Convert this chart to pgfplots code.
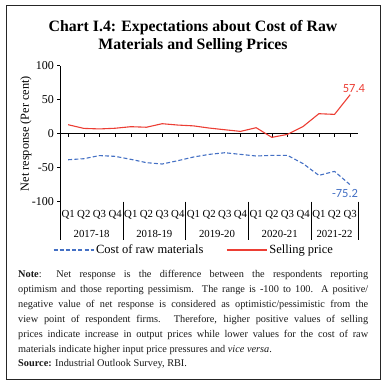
\documentclass[border=0pt]{standalone}
\usepackage{pgfplots}
\pgfplotsset{compat=1.18}
\usepackage{fontspec}
\setmainfont{Liberation Serif}
\newfontfamily\calib{Carlito}
\definecolor{sred}{RGB}{236,62,52}
\definecolor{cblue}{RGB}{68,112,196}
\begin{document}
\begin{tikzpicture}
\path (0pt,0pt) rectangle (387pt,387pt);
\draw[line width=0.9pt, black!85] (6.5pt,381.5pt) rectangle (380.5pt,8pt);
\node[font=\bfseries\fontsize{15.8}{17.6}\selectfont, anchor=base] at (193pt,355pt) {Chart I.4: Expectations about Cost of Raw};
\node[font=\bfseries\fontsize{15.8}{17.6}\selectfont, anchor=base] at (193pt,337.5pt) {Materials and Selling Prices};
\begin{axis}[
  at={(60.3pt,185.3pt)}, anchor=south west,
  x=15.67pt, y=0.68pt,
  xmin=-0.5, xmax=18.5, ymin=-100, ymax=100,
  axis x line=middle, axis y line=left,
  axis line style={-, black, line width=0.6pt},
  clip=false,
  xtick={0,...,18}, xticklabels={},
  ytick={-100,-50,0,50,100},
  tick align=outside, major tick length=3pt,
  tick style={black, line width=0.6pt},
  /pgf/number format/assume math mode=true,
  yticklabel style={font=\fontsize{12}{13}\selectfont},
  legend columns=2,
  legend style={draw=none, at={(0.449,-0.355)}, anchor=center, font=\fontsize{12.5}{13}\selectfont, /tikz/every even column/.append style={column sep=21pt}},
  legend image code/.code={\draw[#1] (0pt,0pt) -- (40pt,0pt);},
]
\addplot[cblue, line width=1.1pt, dash pattern=on 4pt off 2.2pt] coordinates {
(0,-38.3) (1,-36.8) (2,-32.2) (3,-33.3) (4,-37.7) (5,-42.6) (6,-44.6) (7,-39.7) (8,-34.3)
(9,-30.4) (10,-28) (11,-30.4) (12,-32.8) (13,-31.9) (14,-31.9) (15,-44.1) (16,-61.3) (17,-55.4) (18,-75.2)};
\addlegendentry{Cost of raw materials}
\addplot[sred, line width=1.1pt] coordinates {
(0,13.2) (1,7.8) (2,7) (3,8) (4,10.3) (5,9.5) (6,14.7) (7,12.7) (8,11.5)
(9,8.3) (10,5.8) (11,3.4) (12,8.8) (13,-5.4) (14,-1) (15,10.7) (16,29.4) (17,28.4) (18,57.4)};
\addlegendentry{Selling price}
\node[text=sred, font=\calib\fontsize{12.5}{13}\selectfont] at (axis cs:18.24,66.5) {57.4};
\node[text=cblue, font=\calib\fontsize{12.5}{13}\selectfont] at (axis cs:17.67,-88) {-75.2};
\node[rotate=90, font=\fontsize{12.3}{13}\selectfont] at (axis cs:-2.69,0) {Net response (Per cent)};
\draw[black, line width=0.6pt] (axis cs:-0.5,-100) -- (axis cs:-0.5,-156);
\draw[black, line width=0.6pt] (axis cs:3.5,-100) -- (axis cs:3.5,-156);
\draw[black, line width=0.6pt] (axis cs:7.5,-100) -- (axis cs:7.5,-156);
\draw[black, line width=0.6pt] (axis cs:11.5,-100) -- (axis cs:11.5,-156);
\draw[black, line width=0.6pt] (axis cs:15.5,-100) -- (axis cs:15.5,-156);
\draw[black, line width=0.6pt] (axis cs:18.5,-100) -- (axis cs:18.5,-156);
\node[font=\fontsize{10.8}{12}\selectfont] at (axis cs:0,-120) {Q1};
\node[font=\fontsize{10.8}{12}\selectfont] at (axis cs:1,-120) {Q2};
\node[font=\fontsize{10.8}{12}\selectfont] at (axis cs:2,-120) {Q3};
\node[font=\fontsize{10.8}{12}\selectfont] at (axis cs:3,-120) {Q4};
\node[font=\fontsize{10.8}{12}\selectfont] at (axis cs:4,-120) {Q1};
\node[font=\fontsize{10.8}{12}\selectfont] at (axis cs:5,-120) {Q2};
\node[font=\fontsize{10.8}{12}\selectfont] at (axis cs:6,-120) {Q3};
\node[font=\fontsize{10.8}{12}\selectfont] at (axis cs:7,-120) {Q4};
\node[font=\fontsize{10.8}{12}\selectfont] at (axis cs:8,-120) {Q1};
\node[font=\fontsize{10.8}{12}\selectfont] at (axis cs:9,-120) {Q2};
\node[font=\fontsize{10.8}{12}\selectfont] at (axis cs:10,-120) {Q3};
\node[font=\fontsize{10.8}{12}\selectfont] at (axis cs:11,-120) {Q4};
\node[font=\fontsize{10.8}{12}\selectfont] at (axis cs:12,-120) {Q1};
\node[font=\fontsize{10.8}{12}\selectfont] at (axis cs:13,-120) {Q2};
\node[font=\fontsize{10.8}{12}\selectfont] at (axis cs:14,-120) {Q3};
\node[font=\fontsize{10.8}{12}\selectfont] at (axis cs:15,-120) {Q4};
\node[font=\fontsize{10.8}{12}\selectfont] at (axis cs:16,-120) {Q1};
\node[font=\fontsize{10.8}{12}\selectfont] at (axis cs:17,-120) {Q2};
\node[font=\fontsize{10.8}{12}\selectfont] at (axis cs:18,-120) {Q3};
\node[font=\fontsize{10.8}{12}\selectfont] at (axis cs:1.5,-147.5) {2017-18};
\node[font=\fontsize{10.8}{12}\selectfont] at (axis cs:5.5,-147.5) {2018-19};
\node[font=\fontsize{10.8}{12}\selectfont] at (axis cs:9.5,-147.5) {2019-20};
\node[font=\fontsize{10.8}{12}\selectfont] at (axis cs:13.5,-147.5) {2020-21};
\node[font=\fontsize{10.8}{12}\selectfont] at (axis cs:17,-147.5) {2021-22};
\end{axis}
\begin{scope}[every node/.style={anchor=base west, inner sep=0pt, text=black!90, font=\fontsize{10.3}{12}\selectfont}]
\node at (18pt,109.5pt) {\makebox[350pt][s]{\textbf{Note}: Net response is the difference between the respondents reporting}};
\node at (18pt,94.5pt) {\makebox[350pt][s]{optimism and those reporting pessimism. The range is -100 to 100. A positive/}};
\node at (18pt,79.5pt) {\makebox[350pt][s]{negative value of net response is considered as optimistic/pessimistic from the}};
\node at (18pt,64.5pt) {\makebox[350pt][s]{view point of respondent firms. Therefore, higher positive values of selling}};
\node at (18pt,49.5pt) {\makebox[350pt][s]{prices indicate increase in output prices while lower values for the cost of raw}};
\node at (18pt,34.5pt) {materials indicate higher input price pressures and \emph{vice versa}.};
\node at (18pt,20.5pt) {\textbf{Source:} Industrial Outlook Survey, RBI.};
\end{scope}
\end{tikzpicture}
\end{document}
